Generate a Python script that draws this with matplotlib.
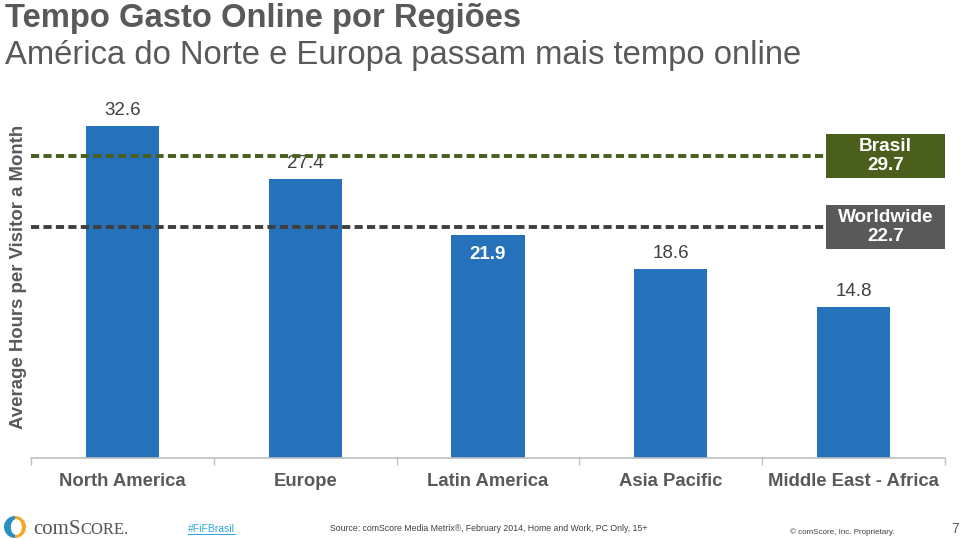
import matplotlib
matplotlib.use("Agg")
import matplotlib.pyplot as plt
from matplotlib.patches import Rectangle, Wedge, Ellipse
import matplotlib.transforms as mtransforms

plt.rcParams['font.family'] = ['Liberation Sans', 'DejaVu Sans']

categories = ["North America", "Europe", "Latin America", "Asia Pacific", "Middle East - Africa"]
values = [32.6, 27.4, 21.9, 18.6, 14.8]
ref_labels = ["Brasil", "Worldwide"]
ref_values = [29.7, 22.7]

title1 = "Tempo Gasto Online por Regiões"
title2 = "América do Norte e Europa passam mais tempo online"
ylabel = "Average Hours per Visitor a Month"
source = "Source: comScore Media Metrix®, February 2014, Home and Work, PC Only, 15+"

BLUE = "#2672BA"
GRAY = "#595959"
GREEN_LINE = "#4A5E1E"
GREEN_BOX = "#4B5F1D"
DARK_LINE = "#3F3F3F"
BOX_GRAY = "#595959"

W, H = 960, 540
fig = plt.figure(figsize=(9.6, 5.4), dpi=100)

def fx(px): return px / W
def fy(py): return 1 - py / H

ax = fig.add_axes([fx(31), fy(458), fx(945) - fx(31), (458 - 95) / H])
x = list(range(len(categories)))
ax.bar(x, values, width=0.4, color=BLUE, zorder=2)
ax.set_xlim(-0.5, len(categories) - 0.5)
ax.set_ylim(0, 35.66)

for s in ["top", "right", "left"]:
    ax.spines[s].set_visible(False)
ax.spines["bottom"].set_color("#BFBFBF")
ax.spines["bottom"].set_linewidth(1.2)
ax.set_yticks([])
ax.set_xticks(x)
ax.set_xticklabels(categories, fontsize=13.3, fontweight="bold", color=GRAY)
ax.tick_params(axis="x", length=0, pad=11)
ax.set_xticks([i - 0.5 for i in range(len(categories) + 1)], minor=True)
ax.tick_params(axis="x", which="minor", length=5, color="#BFBFBF", width=1, direction="out")

ax.set_ylabel(ylabel, fontsize=13.4, fontweight="bold", color=GRAY, labelpad=3)

for i, v in enumerate(values):
    if i == 2:
        ax.annotate(f"{v}", (i, v), xytext=(0, -8), textcoords="offset points",
                    ha="center", va="top", fontsize=13.5, fontweight="bold", color="white", zorder=3)
    else:
        ax.annotate(f"{v}", (i, v), xytext=(0, 5), textcoords="offset points",
                    ha="center", va="bottom", fontsize=13.5, color="#404040", zorder=3)

line_colors = [GREEN_LINE, DARK_LINE]
box_colors = [GREEN_BOX, BOX_GRAY]
trans = mtransforms.blended_transform_factory(ax.transAxes, ax.transData)
box_x0 = (826 - 31) / (945 - 31)
box_h = 44 / ((458 - 95) / 35.66)
for lab, val, lc, bc in zip(ref_labels, ref_values, line_colors, box_colors):
    ax.plot([0, box_x0], [val, val], transform=trans, color=lc, lw=2.8,
            dashes=(2.1, 1.1), zorder=4, clip_on=False, solid_capstyle="butt")
    ax.add_patch(Rectangle((box_x0, val - box_h / 2), 1 - box_x0, box_h, transform=trans,
                           facecolor=bc, edgecolor="none", zorder=5, clip_on=False))
    ax.text((box_x0 + 1) / 2, val, f"{lab}\n{val}", transform=trans, ha="center", va="center",
            fontsize=13.7, fontweight="bold", color="white", zorder=6, linespacing=1.15)

fig.text(fx(5), fy(27), title1, fontsize=23.6, fontweight="bold", color=GRAY, va="baseline", ha="left")
fig.text(fx(5), fy(64), title2, fontsize=23.6, color=GRAY, va="baseline", ha="left")

# footer: logo
lax = fig.add_axes([fx(4), fy(538), fx(22), 22 / H])
lax.set_xlim(-1, 1); lax.set_ylim(-1, 1); lax.set_aspect("equal"); lax.axis("off")
lax.add_patch(Wedge((0, 0), 1, 90, 270, facecolor="#2A8FC4", edgecolor="none"))
lax.add_patch(Wedge((0, 0), 1, -90, 90, facecolor="#F5A623", edgecolor="none"))
lax.add_patch(Ellipse((0.12, 0), 1.0, 1.45, facecolor="white", edgecolor="none"))

renderer = fig.canvas.get_renderer()
xpos = fx(33)
for part, fs in [("com", 15), ("S", 15), ("CORE.", 12)]:
    t = fig.text(xpos, fy(534), part, fontsize=fs, family="Liberation Serif", color="#555555", va="baseline")
    bb = t.get_window_extent(renderer=renderer)
    xpos = bb.x1 / (fig.dpi * fig.get_figwidth())

fig.text(fx(188), fy(532), "#FiFBrasil", fontsize=7.5, color="#2BA6D9", va="baseline")
fig.add_artist(plt.Line2D([fx(188), fx(235)], [fy(534), fy(534)], color="#2BA6D9", lw=0.7))

fig.text(fx(330), fy(531), source, fontsize=6.3, color="#404040", va="baseline")
fig.text(fx(790), fy(534), "© comScore, Inc. Proprietary.", fontsize=5.8, color="#404040", va="baseline")
fig.text(fx(951), fy(533), "7", fontsize=10, color=GRAY, va="baseline")

fig.savefig("out.png", dpi=100)
